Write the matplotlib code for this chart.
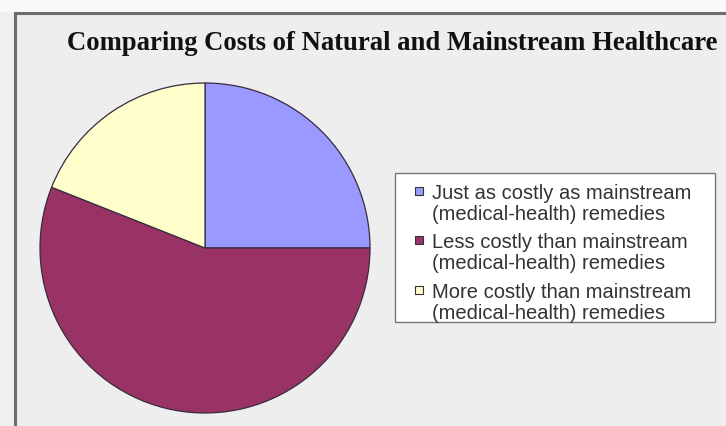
import matplotlib.pyplot as plt
from matplotlib.patches import Rectangle
from matplotlib.legend_handler import HandlerPatch

# data
labels = ['Just as costly as mainstream\n(medical-health) remedies',
          'Less costly than mainstream\n(medical-health) remedies',
          'More costly than mainstream\n(medical-health) remedies']
shares = [25, 56, 19]
colors = ['#9999FF', '#993366', '#FFFFCC']

W, H = 726, 427
fig = plt.figure(figsize=(W / 100, H / 100), dpi=100)
fig.patch.set_facecolor('#F0F0F0')

# white strip on top, grey frame line (behind the axes)
fig.patches.append(Rectangle((0, 1 - 13 / H), 1, 13 / H, transform=fig.transFigure,
                             facecolor='#FAFAFA', edgecolor='none', zorder=-2))
fig.patches.append(Rectangle((15 / W, -0.1), 1.2, 1 - 14 / H + 0.1, transform=fig.transFigure,
                             facecolor='#EEEEEE', edgecolor='#6E6E6E', linewidth=2.2, zorder=-1))

fig.text(392 / W, 1 - 44 / H, 'Comparing Costs of Natural and Mainstream Healthcare',
         ha='center', va='center', fontsize=19.2, fontweight='bold',
         family='Liberation Serif', color='#111111')

# pie axes: center (205, 249), radius ~165 px
r = 165
ax = fig.add_axes([(205 - r) / W, 1 - (249 + r) / H, 2 * r / W, 2 * r / H])
wedges, _ = ax.pie(shares, colors=colors, startangle=90, counterclock=False,
                   radius=1, wedgeprops=dict(edgecolor='#3A2A40', linewidth=0.9))
ax.set_xlim(-1, 1)
ax.set_ylim(-1, 1)
ax.set_aspect('equal')
ax.axis('off')


# small square next to the first line of each entry
def top_square(legend, orig_handle, xdescent, ydescent, width, height, fontsize):
    s = width
    return Rectangle((-xdescent, -ydescent + height - s + 0.08 * fontsize), s, s)


# legend box drawn separately so the padding can be uneven like the original
fig.patches.append(Rectangle((395 / W, 1 - 323 / H), 320 / W, 149 / H,
                             transform=fig.transFigure, facecolor='white',
                             edgecolor='#777777', linewidth=1.0, zorder=2))
leg = fig.legend(wedges, labels, loc='upper left',
                 bbox_to_anchor=(411 / W, 1 - 180 / H), frameon=False,
                 prop={'family': 'Liberation Sans', 'size': 14.5},
                 handlelength=0.4, handleheight=2.0, handletextpad=0.45,
                 labelspacing=0.48, borderpad=0.2, borderaxespad=0,
                 handler_map={w: HandlerPatch(patch_func=top_square) for w in wedges})
leg.set_zorder(3)
for t in leg.get_texts():
    t.set_color('#333333')
    t.set_linespacing(1.12)
for h in leg.legend_handles:
    h.set_edgecolor('#333333')
    h.set_linewidth(0.8)

fig.savefig('out.png', dpi=100, facecolor=fig.get_facecolor())
